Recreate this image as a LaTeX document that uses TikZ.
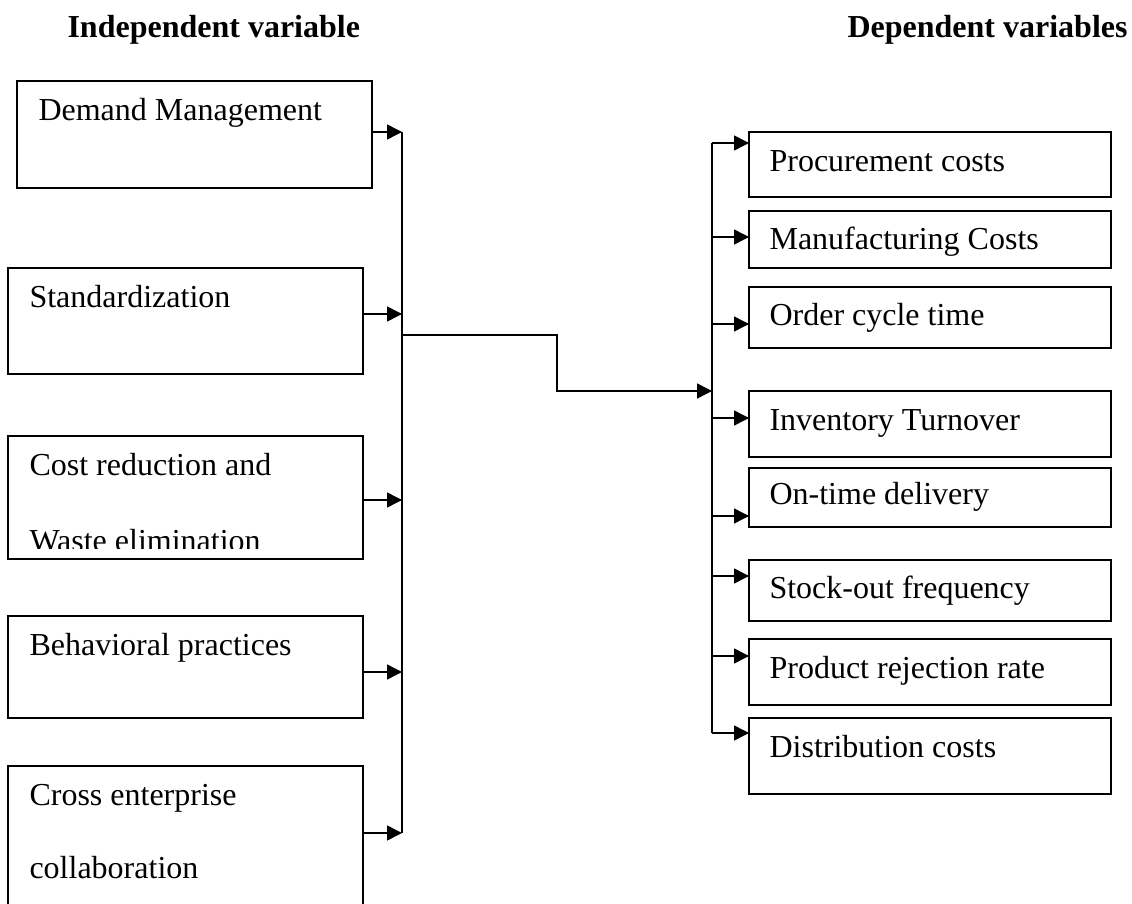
\documentclass[tikz,border=0pt]{standalone}
\usepackage{fontspec}
\setmainfont{Liberation Serif}
\usetikzlibrary{arrows.meta}

\tikzset{
  varbox/.style 2 args={draw, line width=0.8pt, inner sep=0pt, outer sep=0pt,
    minimum width=#1*0.375pt, minimum height=#2*0.375pt},
  boxtext/.style={anchor=base west, inner sep=0pt, font=\fontsize{12}{14}\selectfont},
  headtext/.style={boxtext, font=\fontsize{12}{14}\selectfont\bfseries},
  feed/.style={line width=0.55pt, -{Triangle[length=5.6pt,width=5.6pt]}},
  bus/.style={line width=0.55pt},
}

\begin{document}
\begin{tikzpicture}[x=0.375pt, y=-0.375pt]
    \useasboundingbox (0,0) rectangle (1132,904);

    % headings
    \node[headtext] (indep) at (67,38) {Independent variable};
    \node[headtext] (dep) at (847,38) {Dependent variables};

    % independent variables
    \node[varbox={355}{107}] (dm) at (194.5,134.5) {};
    \node[varbox={355}{106}] (st) at (185.5,321) {};
    \node[varbox={355}{123}] (cr) at (185.5,497.5) {};
    \node[varbox={355}{102}] (bp) at (185.5,667) {};
    \node[varbox={355}{142}] (ce) at (185.5,837) {};

    \node[boxtext] (dm-t) at (38,121) {Demand Management};
    \node[boxtext] (st-t) at (29,308) {Standardization};
    \node[boxtext] (cr-t) at (29,475) {Cost reduction and};
    \begin{scope}
        \clip (0,0) rectangle (1132,548);
        \node[boxtext] (cr-u) at (29,551) {Waste elimination};
    \end{scope}
    \node[boxtext] (bp-t) at (29,655) {Behavioral practices};
    \node[boxtext] (ce-t) at (29,805) {Cross enterprise};
    \node[boxtext] (ce-u) at (29,878) {collaboration};

    % dependent variables
    \node[varbox={362}{65}] (pc) at (930,164.5) {};
    \node[varbox={362}{57}] (mc) at (930,239.5) {};
    \node[varbox={362}{61}] (oc) at (930,317.5) {};
    \node[varbox={362}{66}] (it) at (930,424) {};
    \node[varbox={362}{59}] (od) at (930,497.5) {};
    \node[varbox={362}{61}] (so) at (930,590.5) {};
    \node[varbox={362}{66}] (pr) at (930,672) {};
    \node[varbox={362}{76}] (dc) at (930,756) {};

    \node[boxtext] (pc-t) at (769,172) {Procurement costs};
    \node[boxtext] (mc-t) at (769,250) {Manufacturing Costs};
    \node[boxtext] (oc-t) at (769,326) {Order cycle time};
    \node[boxtext] (it-t) at (769,430) {Inventory Turnover};
    \node[boxtext] (od-t) at (769,504) {On-time delivery};
    \node[boxtext] (so-t) at (769,598) {Stock-out frequency};
    \node[boxtext] (pr-t) at (769,678) {Product rejection rate};
    \node[boxtext] (dc-t) at (769,757) {Distribution costs};

    % left bus
    \foreach \n/\y in {dm/132,st/314,cr/500,bp/672,ce/833} {
        \coordinate (lb-\n) at (402,\y);
        \draw[feed] (\n.east |- lb-\n) -- (lb-\n);
    }
    \draw[bus] (lb-dm) -- (lb-ce);

    % right bus
    \foreach \n/\y in {pc/143,mc/237,oc/324,it/418,od/516,so/576,pr/656,dc/733} {
        \coordinate (rb-\n) at (712,\y);
        \draw[feed] (rb-\n) -- (\n.west |- rb-\n);
    }
    \draw[bus] (rb-pc) -- (rb-dc);

    % link
    \coordinate (jl) at (402,335);
    \coordinate (jr) at (712,391);
    \draw[feed] (jl) -- ++(155,0) |- (jr);
\end{tikzpicture}
\end{document}
